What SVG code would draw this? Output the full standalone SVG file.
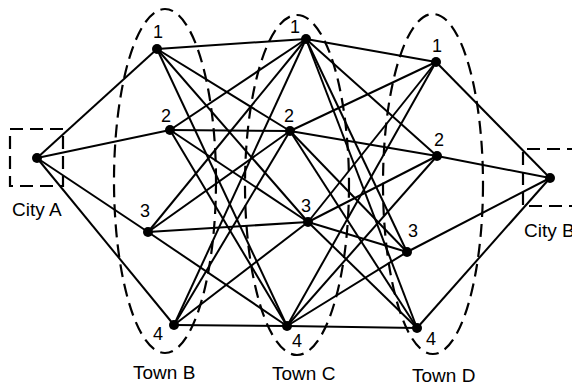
<svg xmlns="http://www.w3.org/2000/svg" width="572" height="385" viewBox="0 0 572 385">
<style>
.e{stroke:#000;stroke-width:2;fill:none}
.d{stroke:#000;stroke-width:2.2;fill:none;stroke-dasharray:13 7}
.n{fill:#000}
text{font-family:"Liberation Sans",Arial,sans-serif;font-size:18px;fill:#000}
.lb{font-size:19px}
</style>
<rect width="572" height="385" fill="#fff"/>
<g id="groups">
<ellipse class="d" cx="165" cy="181" rx="51" ry="172"/>
<ellipse class="d" cx="297" cy="185" rx="52" ry="170"/>
<ellipse class="d" cx="433" cy="184" rx="50" ry="170"/>
<rect class="d" x="10" y="129" width="53" height="57"/>
<path class="d" d="M580 149 H523 V206 H580"/>
</g>
<g id="connectors" class="e">
<line x1="37" y1="158" x2="157" y2="49"/>
<line x1="37" y1="158" x2="170" y2="130"/>
<line x1="37" y1="158" x2="148" y2="232"/>
<line x1="37" y1="158" x2="174" y2="325"/>
<line x1="157" y1="49" x2="306" y2="39"/>
<line x1="157" y1="49" x2="290" y2="131"/>
<line x1="157" y1="49" x2="308" y2="222"/>
<line x1="157" y1="49" x2="287" y2="326"/>
<line x1="170" y1="130" x2="306" y2="39"/>
<line x1="170" y1="130" x2="290" y2="131"/>
<line x1="170" y1="130" x2="308" y2="222"/>
<line x1="170" y1="130" x2="287" y2="326"/>
<line x1="148" y1="232" x2="306" y2="39"/>
<line x1="148" y1="232" x2="290" y2="131"/>
<line x1="148" y1="232" x2="308" y2="222"/>
<line x1="148" y1="232" x2="287" y2="326"/>
<line x1="174" y1="325" x2="306" y2="39"/>
<line x1="174" y1="325" x2="290" y2="131"/>
<line x1="174" y1="325" x2="308" y2="222"/>
<line x1="174" y1="325" x2="287" y2="326"/>
<line x1="306" y1="39" x2="436" y2="62"/>
<line x1="306" y1="39" x2="437" y2="156"/>
<line x1="306" y1="39" x2="407" y2="252"/>
<line x1="306" y1="39" x2="417" y2="328"/>
<line x1="290" y1="131" x2="436" y2="62"/>
<line x1="290" y1="131" x2="437" y2="156"/>
<line x1="290" y1="131" x2="407" y2="252"/>
<line x1="290" y1="131" x2="417" y2="328"/>
<line x1="308" y1="222" x2="436" y2="62"/>
<line x1="308" y1="222" x2="437" y2="156"/>
<line x1="308" y1="222" x2="407" y2="252"/>
<line x1="308" y1="222" x2="417" y2="328"/>
<line x1="287" y1="326" x2="436" y2="62"/>
<line x1="287" y1="326" x2="437" y2="156"/>
<line x1="287" y1="326" x2="407" y2="252"/>
<line x1="287" y1="326" x2="417" y2="328"/>
<line x1="436" y1="62" x2="550" y2="178"/>
<line x1="437" y1="156" x2="550" y2="178"/>
<line x1="407" y1="252" x2="550" y2="178"/>
<line x1="417" y1="328" x2="550" y2="178"/>
</g>
<g id="cityA"><circle class="n" cx="37" cy="158" r="5"/><text class="lb" x="12" y="216">City A</text></g>
<g id="cityB"><circle class="n" cx="550" cy="178" r="5"/><text class="lb" x="524" y="237">City B</text></g>
<g id="B1"><circle class="n" cx="157" cy="49" r="5"/><text x="153" y="38">1</text></g>
<g id="B2"><circle class="n" cx="170" cy="130" r="5"/><text x="161" y="122">2</text></g>
<g id="B3"><circle class="n" cx="148" cy="232" r="5"/><text x="140" y="217">3</text></g>
<g id="B4"><circle class="n" cx="174" cy="325" r="5"/><text x="153" y="340">4</text></g>
<g id="C1"><circle class="n" cx="306" cy="39" r="5"/><text x="290" y="33">1</text></g>
<g id="C2"><circle class="n" cx="290" cy="131" r="5"/><text x="284" y="122">2</text></g>
<g id="C3"><circle class="n" cx="308" cy="222" r="5"/><text x="301" y="212">3</text></g>
<g id="C4"><circle class="n" cx="287" cy="326" r="5"/><text x="292" y="347">4</text></g>
<g id="D1"><circle class="n" cx="436" cy="62" r="5"/><text x="432" y="52">1</text></g>
<g id="D2"><circle class="n" cx="437" cy="156" r="5"/><text x="434" y="146">2</text></g>
<g id="D3"><circle class="n" cx="407" cy="252" r="5"/><text x="408" y="237">3</text></g>
<g id="D4"><circle class="n" cx="417" cy="328" r="5"/><text x="426" y="345">4</text></g>
<g id="labels">
<text class="lb" x="133" y="379">Town B</text>
<text class="lb" x="272" y="380">Town C</text>
<text class="lb" x="412" y="382">Town D</text>
</g>
</svg>
